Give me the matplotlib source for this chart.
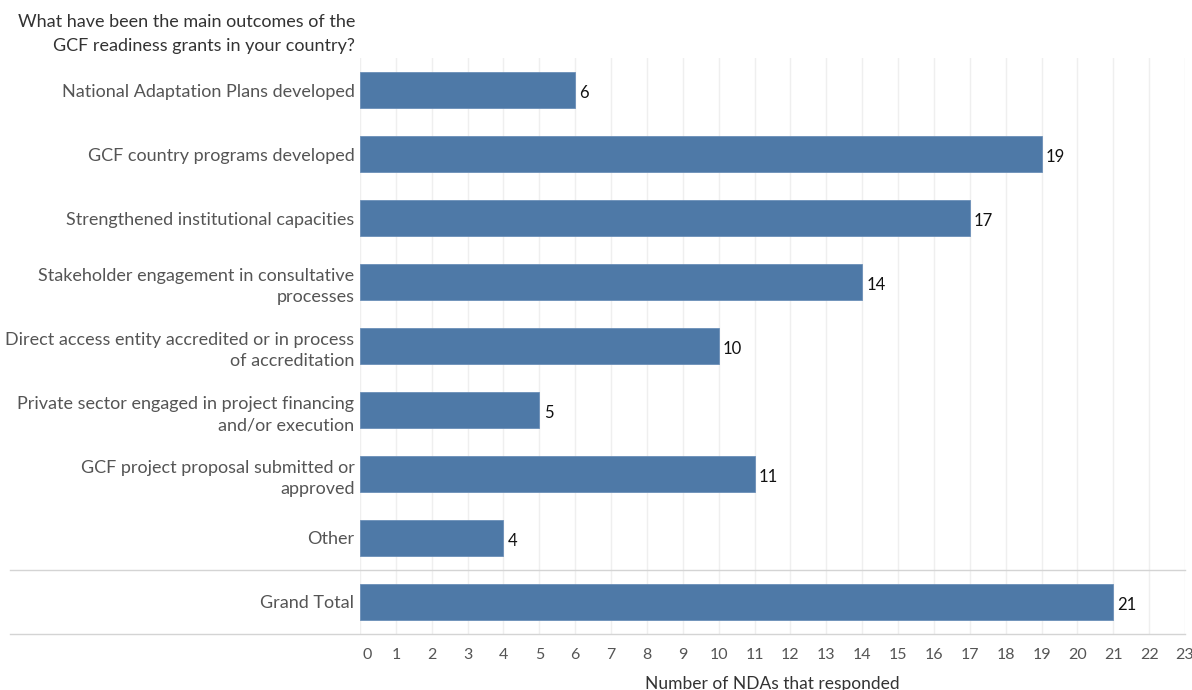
import matplotlib
matplotlib.use("Agg")
import matplotlib.pyplot as plt
import matplotlib.transforms as mtransforms
from matplotlib.lines import Line2D

categories = [
    "National Adaptation Plans developed",
    "GCF country programs developed",
    "Strengthened institutional capacities",
    "Stakeholder engagement in consultative\nprocesses",
    "Direct access entity accredited or in process\nof accreditation",
    "Private sector engaged in project financing\nand/or execution",
    "GCF project proposal submitted or\napproved",
    "Other",
    "Grand Total",
]
counts = [6, 19, 17, 14, 10, 5, 11, 4, 21]
x_ticks = list(range(0, 24))

plt.rcParams["font.family"] = ["Lato", "DejaVu Sans"]

fig = plt.figure(figsize=(11.92, 6.90), dpi=100)
ax = fig.add_axes([360 / 1192, 56 / 690, 825 / 1192, 576 / 690])

ypos = list(range(len(categories)))
ax.barh(ypos, counts, height=0.56, color="#4e79a7", edgecolor="#6b8fb8",
        linewidth=0.6, zorder=2)

# value labels sit a touch below the bar centre
lbl_off = mtransforms.ScaledTranslation(0, -3 / 100, fig.dpi_scale_trans)
for y, v in zip(ypos, counts):
    ax.text(v + 0.12, y, str(v), va="center", ha="left", fontsize=12,
            color="#111111", transform=ax.transData + lbl_off)

ax.set_xlim(0, 23)
ax.set_ylim(len(categories) - 0.5, -0.5)
ax.set_yticks(ypos)
ax.set_yticklabels(categories, fontsize=13, color="#555555")
ax.set_xticks(x_ticks)
ax.set_xticklabels([str(t) for t in x_ticks], fontsize=11.5, color="#555555")
ax.tick_params(length=0, pad=4)
ax.tick_params(axis="x", pad=10)
for lbl in ax.get_yticklabels():
    lbl.set_multialignment("right")
    lbl.set_linespacing(1.45)
zero_lbl = ax.get_xticklabels()[0]
zero_lbl.set_transform(zero_lbl.get_transform()
                       + mtransforms.ScaledTranslation(7 / 100, 0, fig.dpi_scale_trans))

ax.grid(axis="x", color="#efefef", linewidth=1, zorder=0)
ax.set_axisbelow(True)
for s in ax.spines.values():
    s.set_visible(False)

ax.set_xlabel("Number of NDAs that responded", fontsize=12.5, color="#333333",
              labelpad=10)

# separator lines around the grand total row
for yy in (570, 634):
    fig.add_artist(Line2D([10 / 1192, 1185 / 1192], [1 - yy / 690, 1 - yy / 690],
                          color="#d4d4d4", linewidth=1))

fig.text(355 / 1192, 1 - 34 / 690,
         "What have been the main outcomes of the\nGCF readiness grants in your country?",
         ha="right", va="center", fontsize=13, color="#333333",
         multialignment="right", linespacing=1.6)

fig.savefig("out.png", dpi=100, facecolor="white")
